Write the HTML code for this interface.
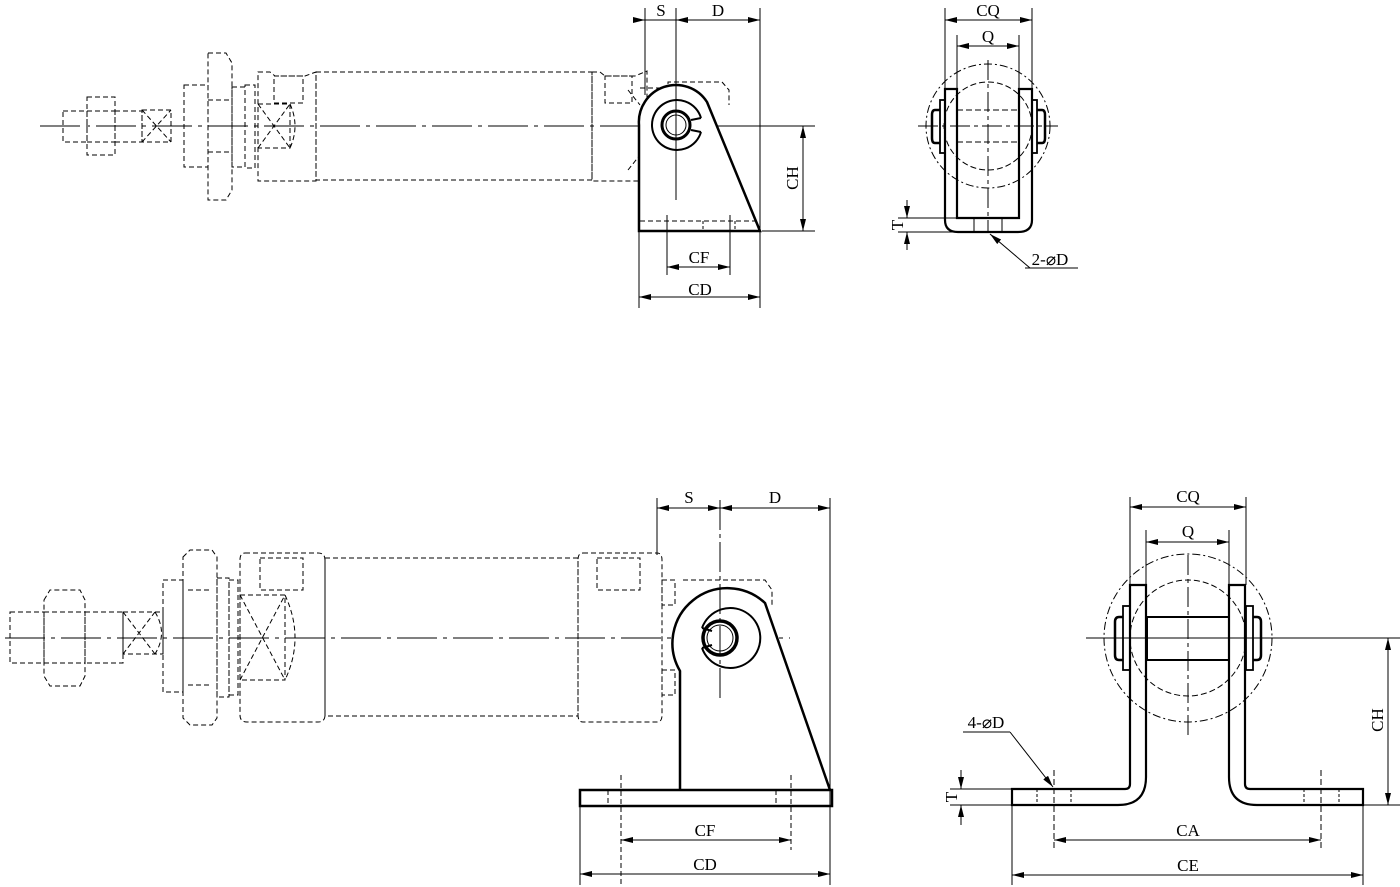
<!DOCTYPE html>
<html><head><meta charset="utf-8"><style>
html,body{margin:0;padding:0;background:#fff}
svg{display:block}
text{font-family:"Liberation Serif",serif;font-size:17px;fill:#000}
</style></head><body>
<svg width="1400" height="887" viewBox="0 0 1400 887" xmlns="http://www.w3.org/2000/svg">
<defs>
<marker id="a" viewBox="0 0 12 6" refX="12" refY="3" markerWidth="12" markerHeight="6" orient="auto-start-reverse" markerUnits="userSpaceOnUse"><path d="M0,0 L12,3 L0,6 z" fill="#000"/></marker>
</defs>
<g fill="none" stroke="#000">
<!-- ===== TOP LEFT ===== -->
<g stroke-width="1" stroke-dasharray="5 3">
<rect x="63" y="111" width="24" height="31"/>
<rect x="87" y="97" width="28" height="58"/>
<line x1="87" y1="111" x2="115" y2="111"/><line x1="87" y1="142" x2="115" y2="142"/>
<rect x="115" y="111" width="27" height="31"/>
<rect x="142" y="110" width="29" height="32"/>
<path d="M142,110 L171,142 M142,142 L171,110"/>
<rect x="184" y="85" width="24" height="82"/>
<path d="M208,53 L226,53 L232,63 L232,190 L226,200 L208,200 Z"/>
<line x1="208" y1="100" x2="232" y2="100"/><line x1="208" y1="152" x2="232" y2="152"/>
<rect x="232" y="87" width="13" height="80"/>
<rect x="245" y="85" width="10" height="83"/>
<path d="M258,72 L270,72 L275,76 L305,76 L316,72 L316,181 L258,181 Z"/>
<rect x="274" y="76" width="29" height="27"/>
<rect x="258" y="104" width="32" height="44"/>
<path d="M258,104 L290,148 M258,148 L290,104 M290,104 Q300,126 290,148"/>
<rect x="316" y="72" width="276" height="108"/>
<path d="M592,72 L600,72 L605,76 L635,76 L647,71 L647,181 L592,181 Z"/>
<rect x="605" y="76" width="27" height="27"/>
<path d="M640,88 L668,88 L668,82 L722,82 L729,90 L729,105"/>
<path d="M628,90 L640,105 M628,170 L640,155"/>
</g>
<line x1="40" y1="126" x2="815" y2="126" stroke-width="1" stroke-dasharray="40 6 4 6"/>
<path d="M639,231 L639,125 A37,37 0 0 1 707,102 L760,231 Z" stroke-width="2.5" fill="#fff"/>
<line x1="640" y1="221" x2="760" y2="221" stroke-dasharray="5 3"/>
<path d="M667,221 V231 M703,221 V231 M735,221 V231" stroke-dasharray="3 2"/>
<path d="M701,118 A25,25 0 1 0 701,132" stroke-width="2"/>
<path d="M701,118 L691,120 M701,132 L691,130" stroke-width="2"/>
<circle cx="676" cy="125" r="14" stroke-width="3"/>
<circle cx="676" cy="125" r="10" stroke-width="1"/>
<line x1="676" y1="8" x2="676" y2="200" stroke-width="1"/>
<line x1="645" y1="8" x2="645" y2="95"/>
<line x1="760" y1="8" x2="760" y2="231"/>
<line x1="633" y1="20" x2="645" y2="20" marker-end="url(#a)"/>
<line x1="645" y1="20" x2="760" y2="20" marker-end="url(#a)"/>
<line x1="676" y1="20" x2="690" y2="20" marker-start="url(#a)"/>
<line x1="720" y1="126" x2="815" y2="126"/>
<line x1="762" y1="231" x2="815" y2="231"/>
<line x1="803" y1="126" x2="803" y2="231" marker-start="url(#a)" marker-end="url(#a)"/>
<line x1="667" y1="215" x2="667" y2="275"/><line x1="730" y1="215" x2="730" y2="275"/>
<line x1="667" y1="267" x2="730" y2="267" marker-start="url(#a)" marker-end="url(#a)"/>
<line x1="639" y1="231" x2="639" y2="308"/>
<line x1="639" y1="297" x2="760" y2="297" marker-start="url(#a)" marker-end="url(#a)"/>
<line x1="760" y1="231" x2="760" y2="308"/>

<!-- ===== TOP RIGHT ===== -->
<circle cx="988" cy="126" r="62" stroke-width="1" stroke-dasharray="8 3 2 3"/>
<circle cx="988" cy="126" r="44" stroke-width="1" stroke-dasharray="6 3"/>
<line x1="918" y1="126" x2="1058" y2="126" stroke-dasharray="20 4 4 4"/>
<line x1="988" y1="60" x2="988" y2="232" stroke-dasharray="20 4 4 4"/>
<path d="M945,89 L957,89 L957,218 L1019,218 L1019,89 L1032,89 L1032,220 Q1032,232 1018,232 L958,232 Q945,232 945,220 Z" stroke-width="2.2" fill="none"/>
<line x1="957" y1="110" x2="1019" y2="110" stroke-dasharray="6 3"/>
<line x1="957" y1="142" x2="1019" y2="142" stroke-dasharray="6 3"/>
<rect x="940" y="100" width="5" height="53" stroke-width="1.8"/>
<rect x="1032" y="100" width="5" height="53" stroke-width="1.8"/>
<path d="M940,110 L935,110 Q932,110 932,115 L932,138 Q932,143 935,143 L940,143" stroke-width="2.5"/>
<path d="M1037,110 L1042,110 Q1045,110 1045,115 L1045,138 Q1045,143 1042,143 L1037,143" stroke-width="2.5"/>
<path d="M974,218 V232 M1002,218 V232"/>
<line x1="945" y1="8" x2="945" y2="89"/><line x1="1032" y1="8" x2="1032" y2="89"/>
<line x1="945" y1="20" x2="1032" y2="20" marker-start="url(#a)" marker-end="url(#a)"/>
<line x1="957" y1="35" x2="957" y2="89"/><line x1="1019" y1="35" x2="1019" y2="89"/>
<line x1="957" y1="46" x2="1019" y2="46" marker-start="url(#a)" marker-end="url(#a)"/>
<line x1="898" y1="218" x2="957" y2="218"/><line x1="898" y1="232" x2="958" y2="232"/>
<line x1="907" y1="200" x2="907" y2="218" marker-end="url(#a)"/>
<line x1="907" y1="250" x2="907" y2="232" marker-end="url(#a)"/>
<line x1="1030" y1="268" x2="990" y2="234" marker-end="url(#a)"/>
<line x1="1025" y1="268" x2="1078" y2="268"/>

<!-- ===== BOTTOM LEFT ===== -->
<g stroke-width="1" stroke-dasharray="5 3">
<rect x="10" y="612" width="34" height="51"/>
<path d="M44,600 L50,590 L80,590 L85,600 L85,676 L80,686 L50,686 L44,676 Z"/>
<line x1="44" y1="612" x2="85" y2="612"/><line x1="44" y1="663" x2="85" y2="663"/>
<rect x="85" y="612" width="38" height="51"/>
<rect x="123" y="612" width="40" height="42"/>
<path d="M123,612 L155,654 M123,654 L155,612 M155,612 Q168,633 155,654"/>
<rect x="163" y="580" width="20" height="112"/>
<path d="M183,557 L190,550 L212,550 L217,557 L217,718 L212,725 L190,725 L183,718 Z"/>
<line x1="188" y1="590" x2="212" y2="590"/><line x1="188" y1="685" x2="212" y2="685"/>
<rect x="217" y="578" width="12" height="119"/>
<rect x="229" y="580" width="9" height="115"/>
<path d="M245,553 L318,553 Q325,553 325,560 L325,715 Q325,722 318,722 L247,722 Q240,722 240,715 L240,560 Q240,553 245,553 Z"/>
<rect x="260" y="558" width="43" height="32"/>
<rect x="240" y="595" width="45" height="85"/>
<path d="M240,595 L285,680 M240,680 L285,595 M285,595 Q305,638 285,680"/>
<rect x="325" y="558" width="253" height="158"/>
<path d="M583,553 L657,553 Q662,553 662,560 L662,715 Q662,722 657,722 L583,722 Q578,722 578,715 L578,560 Q578,553 583,553 Z"/>
<rect x="597" y="558" width="43" height="32"/>
<rect x="662" y="580" width="13" height="25"/>
<rect x="662" y="670" width="13" height="25"/>
<path d="M683,580 L765,580 L772,590 L772,605"/>
</g>
<line x1="5" y1="638" x2="790" y2="638" stroke-dasharray="40 6 4 6"/>
<path d="M680,790 L680,671 A55,55 0 0 1 765,603 L830,790" stroke-width="2.5" fill="#fff"/>
<rect x="580" y="790" width="252" height="16" stroke-width="2.5" fill="#fff"/>
<path d="M608,790 V806 M621,775 V885 M776,790 V806 M791,775 V850" stroke-dasharray="5 3"/>
<path d="M702,628 A30,30 0 1 1 702,648" stroke-width="2"/>
<path d="M702,628 L712,631 M702,648 L712,645" stroke-width="2"/>
<circle cx="720" cy="638" r="17" stroke-width="3.5"/>
<circle cx="720" cy="638" r="13" stroke-width="1"/>
<line x1="720" y1="500" x2="720" y2="700" stroke-dasharray="30 4 4 4"/>
<line x1="657" y1="498" x2="657" y2="555"/>
<line x1="830" y1="498" x2="830" y2="885"/>
<line x1="657" y1="508" x2="720" y2="508" marker-start="url(#a)" marker-end="url(#a)"/>
<line x1="720" y1="508" x2="830" y2="508" marker-start="url(#a)" marker-end="url(#a)"/>
<line x1="621" y1="840" x2="791" y2="840" marker-start="url(#a)" marker-end="url(#a)"/>
<line x1="580" y1="806" x2="580" y2="885"/>
<line x1="580" y1="874" x2="830" y2="874" marker-start="url(#a)" marker-end="url(#a)"/>

<!-- ===== BOTTOM RIGHT ===== -->
<circle cx="1188" cy="638" r="84" stroke-width="1" stroke-dasharray="8 3 2 3"/>
<circle cx="1188" cy="638" r="58" stroke-width="1" stroke-dasharray="6 3"/>
<line x1="1086" y1="638" x2="1400" y2="638"/>
<line x1="1188" y1="555" x2="1188" y2="735" stroke-dasharray="20 4 4 4"/>
<path d="M1130,585 L1146,585 L1146,777 Q1146,805 1118,805 L1012,805 L1012,789 L1125,789 Q1130,789 1130,784 Z" stroke-width="2.2" fill="none"/>
<path d="M1229,585 L1245,585 L1245,784 Q1245,789 1250,789 L1363,789 L1363,805 L1257,805 Q1229,805 1229,777 Z" stroke-width="2.2" fill="none"/>
<rect x="1147" y="617" width="82" height="43" stroke-width="2" fill="none"/>
<rect x="1123" y="606" width="7" height="64" stroke-width="1.8"/>
<rect x="1246" y="606" width="7" height="64" stroke-width="1.8"/>
<path d="M1123,617 L1119,617 Q1115,617 1115,622 L1115,655 Q1115,660 1119,660 L1123,660" stroke-width="2.5"/>
<path d="M1253,617 L1257,617 Q1261,617 1261,622 L1261,655 Q1261,660 1257,660 L1253,660" stroke-width="2.5"/>
<path d="M1037,789 V805 M1071,789 V805 M1304,789 V805 M1339,789 V805" stroke-dasharray="3 2"/>
<line x1="1054" y1="770" x2="1054" y2="850" stroke-dasharray="6 3"/>
<line x1="1321" y1="770" x2="1321" y2="850" stroke-dasharray="6 3"/>
<line x1="1130" y1="497" x2="1130" y2="585"/><line x1="1246" y1="497" x2="1246" y2="585"/>
<line x1="1130" y1="507" x2="1246" y2="507" marker-start="url(#a)" marker-end="url(#a)"/>
<line x1="1146" y1="530" x2="1146" y2="585"/><line x1="1229" y1="530" x2="1229" y2="585"/>
<line x1="1146" y1="542" x2="1229" y2="542" marker-start="url(#a)" marker-end="url(#a)"/>
<line x1="1363" y1="805" x2="1400" y2="805"/>
<line x1="1388" y1="638" x2="1388" y2="805" marker-start="url(#a)" marker-end="url(#a)"/>
<line x1="950" y1="789" x2="1012" y2="789"/><line x1="950" y1="805" x2="1012" y2="805"/>
<line x1="961" y1="770" x2="961" y2="789" marker-end="url(#a)"/>
<line x1="961" y1="825" x2="961" y2="805" marker-end="url(#a)"/>
<line x1="963" y1="732" x2="1010" y2="732"/>
<line x1="1010" y1="732" x2="1053" y2="787" marker-end="url(#a)"/>
<line x1="1054" y1="840" x2="1321" y2="840" marker-start="url(#a)" marker-end="url(#a)"/>
<line x1="1012" y1="805" x2="1012" y2="885"/><line x1="1363" y1="805" x2="1363" y2="885"/>
<line x1="1012" y1="875" x2="1363" y2="875" marker-start="url(#a)" marker-end="url(#a)"/>
</g>
<g text-anchor="middle">
<text x="661" y="16">S</text><text x="718" y="16">D</text>
<text x="699" y="263">CF</text><text x="700" y="295">CD</text>
<text transform="translate(798,178) rotate(-90)">CH</text>
<text x="988" y="16">CQ</text><text x="988" y="42">Q</text>
<text transform="translate(903,225) rotate(-90)">T</text>
<text x="1050" y="265">2-⌀D</text>
<text x="689" y="503">S</text><text x="775" y="503">D</text>
<text x="705" y="836">CF</text><text x="705" y="870">CD</text>
<text x="1188" y="502">CQ</text><text x="1188" y="537">Q</text>
<text transform="translate(1383,720) rotate(-90)">CH</text>
<text transform="translate(957,797) rotate(-90)">T</text>
<text x="986" y="728">4-⌀D</text>
<text x="1188" y="836">CA</text><text x="1188" y="871">CE</text>
</g>
</svg>
</body></html>
